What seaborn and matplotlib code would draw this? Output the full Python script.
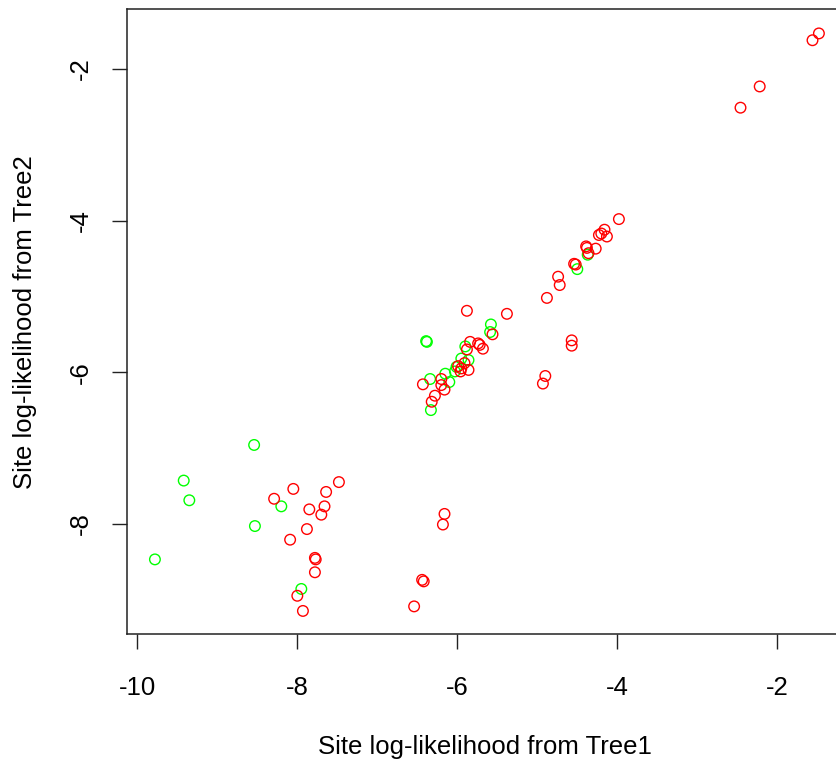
import matplotlib
matplotlib.use("Agg")
import matplotlib.pyplot as plt
import seaborn as sns
import pandas as pd

# Data
red_x = [-7.48, -8.05, -7.64, -8.29, -7.85, -7.66, -7.70, -7.88, -8.09, -7.78, -7.77, -7.78, -8.00, -7.93,
         -6.16, -6.18, -6.44, -6.42, -6.54,
         -1.48, -1.56, -2.22, -2.46,
         -4.90, -4.93, -4.57, -4.57,
         -5.88, -5.38, -4.88, -5.56,
         -5.84, -5.74, -5.72, -5.68, -5.88,
         -5.91, -5.95, -5.99, -5.96, -5.86,
         -6.20, -6.43, -6.16, -6.20, -6.28, -6.32,
         -3.98, -4.16, -4.20, -4.13, -4.23, -4.27, -4.39, -4.38, -4.36, -4.54, -4.52, -4.74, -4.72]
red_y = [-7.45, -7.54, -7.58, -7.67, -7.81, -7.77, -7.88, -8.07, -8.21, -8.45, -8.47, -8.64, -8.95, -9.15,
         -7.87, -8.01, -8.74, -8.76, -9.09,
         -1.53, -1.62, -2.23, -2.51,
         -6.05, -6.15, -5.58, -5.65,
         -5.19, -5.23, -5.02, -5.50,
         -5.60, -5.62, -5.64, -5.69, -5.70,
         -5.88, -5.95, -5.92, -5.99, -5.97,
         -6.09, -6.16, -6.23, -6.17, -6.31, -6.39,
         -3.98, -4.12, -4.17, -4.21, -4.19, -4.37, -4.34, -4.36, -4.43, -4.57, -4.58, -4.74, -4.85]

green_x = [-8.54, -9.42, -9.35, -8.20, -8.53, -9.78, -7.95,
           -5.58, -5.59, -6.39, -6.38,
           -5.90, -5.95, -5.86, -6.01, -6.03, -6.15, -6.10, -6.34, -6.33,
           -4.37, -4.50]
green_y = [-6.96, -7.43, -7.69, -7.77, -8.03, -8.47, -8.86,
           -5.37, -5.47, -5.59, -5.60,
           -5.66, -5.82, -5.84, -5.93, -5.99, -6.02, -6.13, -6.09, -6.50,
           -4.45, -4.64]

x_ticks = [-10, -8, -6, -4, -2]
y_ticks = [-8, -6, -4, -2]
x_label = "Site log-likelihood from Tree1"
y_label = "Site log-likelihood from Tree2"

df = pd.DataFrame({
    "x": green_x + red_x,
    "y": green_y + red_y,
    "grp": ["green"] * len(green_x) + ["red"] * len(red_x),
})

sns.set_style("white")
plt.rcParams["font.family"] = ["Liberation Sans", "DejaVu Sans"]
plt.rcParams["text.color"] = "black"
plt.rcParams["axes.labelcolor"] = "black"

fig = plt.figure(figsize=(8.36, 7.63), dpi=100)
ax = fig.add_axes([0.1523, 0.1691, 0.855, 0.8187])

sns.scatterplot(data=df, x="x", y="y", hue="grp",
                palette={"green": "#00FF00", "red": "#FF0000"},
                marker="o", s=58, linewidth=1.0, legend=False, ax=ax)
coll = ax.collections[0]
fcs = coll.get_facecolors()
coll.set_edgecolors(fcs)
coll.set_facecolors("none")

ax.set_xlim(-10.125, -1.19)
ax.set_ylim(-9.454, -1.212)
ax.set_xticks(x_ticks)
ax.set_yticks(y_ticks)
ax.set_xticklabels([str(t) for t in x_ticks])
ax.set_yticklabels([str(t) for t in y_ticks], rotation=90, va="center")

for sp in ax.spines.values():
    sp.set_color("#222222")
    sp.set_linewidth(1.1)

ax.tick_params(axis="both", direction="out", length=11, width=1.0,
               color="#222222", labelsize=18.5, labelcolor="black",
               bottom=True, left=True)
ax.tick_params(axis="x", pad=19)
ax.tick_params(axis="y", pad=13.5)

ax.set_xlabel(x_label, fontsize=18.5, va="center", color="black")
ax.set_ylabel(y_label, fontsize=18.5, va="center", color="black")
ax.xaxis.set_label_coords(0.5, -0.181)
ax.yaxis.set_label_coords(-0.143, 0.5)

fig.savefig("out.png", dpi=100)
